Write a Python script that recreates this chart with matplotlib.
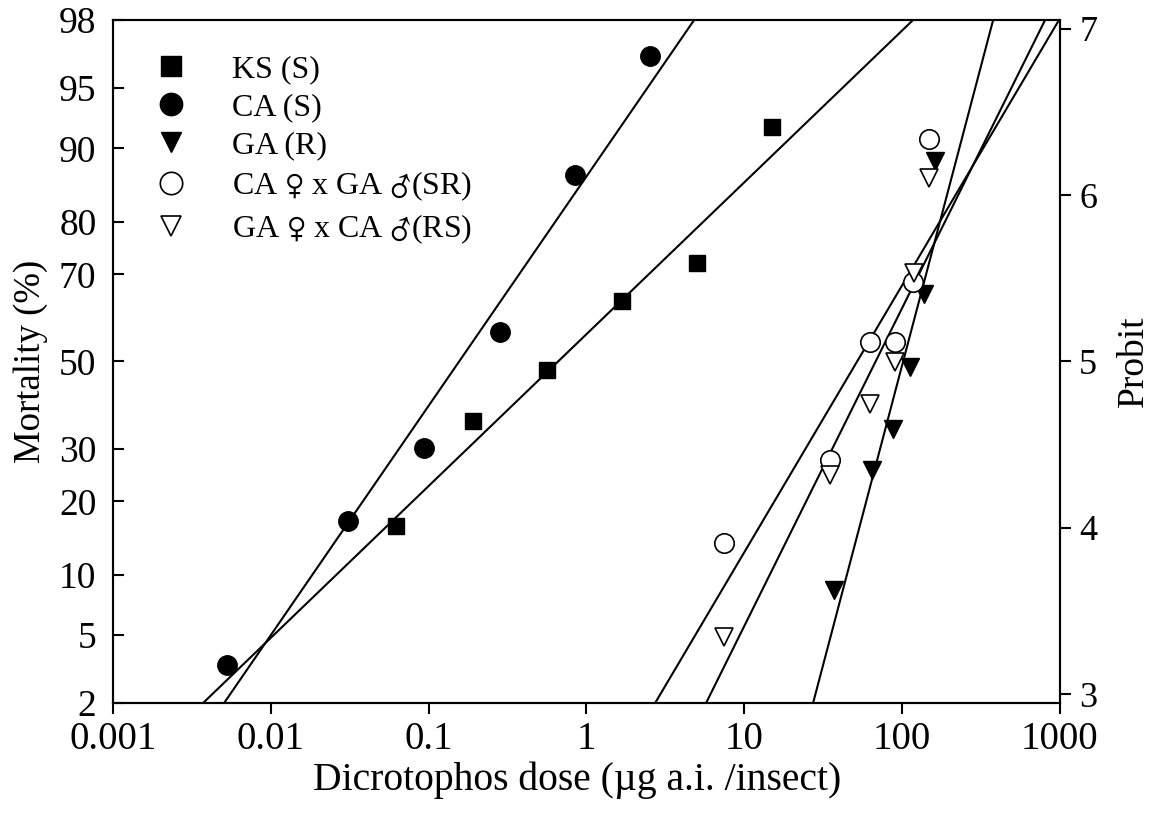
from statistics import NormalDist

import numpy as np
import matplotlib
matplotlib.use("Agg")
import matplotlib.pyplot as plt

plt.rcParams['font.family'] = ['Liberation Serif', 'DejaVu Serif']
plt.rcParams['mathtext.fontset'] = 'stix'

# Observed dose (ug a.i./insect) and mortality (%) per strain
ks_dose = [0.062, 0.19, 0.56, 1.67, 5.0, 14.9]
ks_mort = [16.1, 36.0, 47.9, 64.2, 72.3, 92.1]
ca_dose = [0.0053, 0.031, 0.094, 0.284, 0.845, 2.52]
ca_mort = [3.4, 16.9, 30.1, 57.0, 86.9, 96.7]
ga_dose = [37.2, 64.6, 87.7, 112.5, 137.7, 161.8]
ga_mort = [8.5, 25.7, 34.2, 48.6, 65.7, 88.6]
sr_dose = [7.39, 35.1, 62.8, 90.4, 117.5, 148.0]
sr_mort = [13.7, 27.7, 54.7, 54.7, 68.4, 91.0]
rs_dose = [7.39, 35.1, 62.8, 90.4, 119.0, 148.0]
rs_mort = [4.9, 24.7, 39.9, 49.9, 70.3, 86.5]

# Fitted probit lines: LD50 and slope (probit per log10 dose)
ks_fit = (0.661, 0.913)
ca_fit = (0.156, 1.379)
ga_fit = (101.6, 3.600)
sr_fit = (51.9, 1.605)
rs_fit = (68.0, 1.912)

labels = ["KS (S)", "CA (S)", "GA (R)",
          "CA $\u2640$ x GA $\u2642$(SR)",
          "GA $\u2640$ x CA $\u2642$(RS)"]

mort_ticks = [2, 5, 10, 20, 30, 50, 70, 80, 90, 95, 98]
probit_ticks = [3, 4, 5, 6, 7]
dose_ticks = [0.001, 0.01, 0.1, 1, 10, 100, 1000]
dose_labels = ["0.001", "0.01", "0.1", "1", "10", "100", "1000"]

nd = NormalDist()


def to_probit(pct):
    return np.array([5 + nd.inv_cdf(p / 100.0) for p in pct])


fig = plt.figure(figsize=(11.56, 8.14), dpi=100)
ax = fig.add_axes([0.0978, 0.1364, 0.8190, 0.8390])

# regression lines
xs = np.logspace(-3, 3, 400)
for ld50, slope in [ks_fit, ca_fit, ga_fit, sr_fit, rs_fit]:
    ax.plot(xs, 5 + slope * (np.log10(xs) - np.log10(ld50)),
            color="black", lw=1.5, zorder=2)

ms = 13
ax.plot(ks_dose, to_probit(ks_mort), "s", color="black", ms=12,
        ls="none", label=labels[0], zorder=3)
ax.plot(ca_dose, to_probit(ca_mort), "o", color="black", ms=ms + 1,
        ls="none", label=labels[1], zorder=3)
ax.plot(ga_dose, to_probit(ga_mort), "v", color="black", ms=ms,
        ls="none", label=labels[2], zorder=3)
ax.plot(sr_dose, to_probit(sr_mort), "o", mfc="white", mec="black", mew=1.2,
        ms=ms + 1, ls="none", label=labels[3], zorder=3)
ax.plot(rs_dose, to_probit(rs_mort), "v", mfc="white", mec="black", mew=1.2,
        ms=ms, ls="none", label=labels[4], zorder=4)

ax.set_xscale("log")
ax.set_xlim(0.001, 1000)
ylo, yhi = 5 + nd.inv_cdf(0.02), 5 + nd.inv_cdf(0.98)
ax.set_ylim(ylo, yhi)
ax.set_xticks(dose_ticks)
ax.set_xticklabels(dose_labels)
ax.xaxis.set_minor_locator(matplotlib.ticker.NullLocator())
ax.set_yticks(to_probit(mort_ticks))
ax.set_yticklabels([str(m) for m in mort_ticks])

ax.tick_params(axis="x", direction="out", length=8, width=1.5,
               labelsize=28, pad=5)
ax.tick_params(axis="y", direction="in", length=8, width=1.5,
               labelsize=27, pad=12)
for sp in ax.spines.values():
    sp.set_linewidth(1.5)

ax.set_xlabel("Dicrotophos dose (\u00b5g a.i. /insect)", fontsize=28.5,
              labelpad=6)
ax.xaxis.set_label_coords(0.4905, -0.085)
ax.set_ylabel("Mortality (%)", fontsize=26.5, labelpad=8)

ax2 = ax.twinx()
ax2.set_ylim(ylo, yhi)
ax2.set_yticks(probit_ticks)
ax2.set_yticklabels([str(p) for p in probit_ticks])
ax2.tick_params(axis="y", direction="out", length=8, width=1.5,
                labelsize=26, pad=6)
for sp in ax2.spines.values():
    sp.set_linewidth(1.5)
ax2.set_ylabel("Probit", fontsize=27, labelpad=14)

ax.legend(loc="upper left", bbox_to_anchor=(0.031, 0.968), frameon=False,
          fontsize=23, handlelength=1.0, handletextpad=1.4,
          labelspacing=0.28, borderaxespad=0, markerscale=1.15)

fig.savefig("out.png", dpi=100)
